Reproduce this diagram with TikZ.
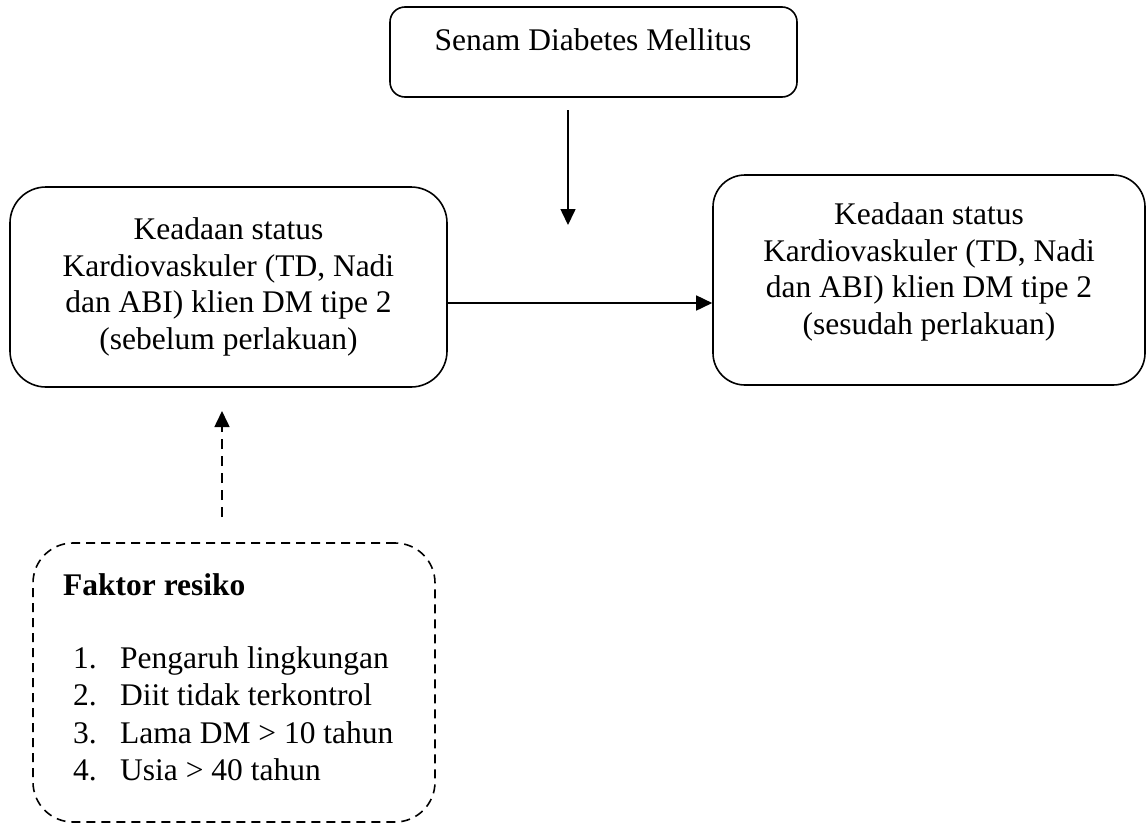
\documentclass[tikz,border=0pt]{standalone}
\usepackage{fontspec}
\setmainfont{Liberation Serif}
\usetikzlibrary{arrows.meta}
\begin{document}
\begin{tikzpicture}[x=1pt,y=-1pt,
  box/.style={draw, line width=1.6pt, inner sep=0pt},
  txt/.style={inner sep=0pt, align=center, font=\fontsize{31.5}{36.5}\selectfont},
  item/.style={inner sep=0pt, anchor=base west, font=\fontsize{31.5}{36.5}\selectfont},
  arr/.style={line width=1.6pt, -{Triangle[length=16pt,width=15pt]}},
  dasharr/.style={arr, dash pattern=on 10pt off 7pt}
]
\useasboundingbox (0,0) rectangle (1147,825);
\fill[white] (0,0) rectangle (1147,825);
% boxes
\node[box, rounded corners=15pt, minimum width=407pt, minimum height=90pt] (top) at (593.5,52) {};
\node[txt, anchor=base] (toptxt) at (593,50) {Senam Diabetes Mellitus};
\node[box, rounded corners=36pt, minimum width=437pt, minimum height=200pt, txt] (lb) at (228.5,287)
  {Keadaan status\\Kardiovaskuler (TD, Nadi\\dan ABI) klien DM tipe 2\\(sebelum perlakuan)};
\node[box, rounded corners=32pt, minimum width=432pt, minimum height=210pt] (rb) at (929,280) {};
\node[txt] (rbtxt) at (929,272)
  {Keadaan status\\Kardiovaskuler (TD, Nadi\\dan ABI) klien DM tipe 2\\(sesudah perlakuan)};
\node[box, dash pattern=on 9pt off 6pt, rounded corners=40pt, minimum width=402pt, minimum height=279pt] (fb) at (234,682.5) {};
\node[item, font=\fontsize{31.5}{36.5}\selectfont\bfseries] (fbtitle) at (63,595) {Faktor resiko};
\node[item] (n1) at (73,668) {1.};
\node[item] (i1) at (120,668) {Pengaruh lingkungan};
\node[item] (n2) at (73,705) {2.};
\node[item] (i2) at (120,705) {Diit tidak terkontrol};
\node[item] (n3) at (73,743) {3.};
\node[item] (i3) at (120,743) {Lama DM > 10 tahun};
\node[item] (n4) at (73,780) {4.};
\node[item] (i4) at (120,780) {Usia > 40 tahun};
% connectors
\coordinate (vs) at (568,110);
\coordinate (ve) at (568,225);
\draw[arr] (vs) -- (ve);
\coordinate (hy) at (0,303);
\draw[arr] (lb.east |- hy) -- (rb.west |- hy);
\coordinate (ds) at (222,517);
\coordinate (de) at (222,411);
\draw[dasharr] (ds) -- (de);
\end{tikzpicture}
\end{document}
